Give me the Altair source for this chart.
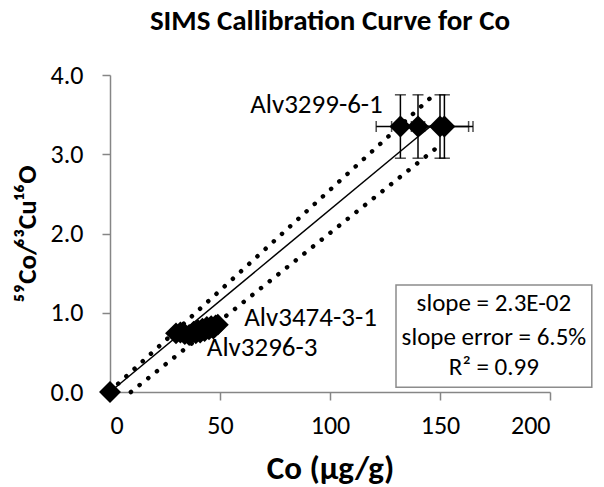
import altair as alt
import pandas as pd

# ---- data ----
x_low = [30, 32, 34, 36, 38, 39, 40, 41, 42, 43, 44, 45, 46, 47, 48, 49]
y_low = [0.74, 0.75, 0.73, 0.72, 0.76, 0.74, 0.78, 0.75, 0.80, 0.77, 0.82, 0.79, 0.83, 0.80, 0.84, 0.85]
x_top = [132, 140, 150, 152]
y_top = [3.35, 3.35, 3.35, 3.35]
yerr_top = [0.40, 0.40, 0.40, 0.40]
xerr_top = [11, 12, 13, 13]
x_zero = [0]
y_zero = [0]

fit_x = [0, 146]
fit_y = [0.0, 3.36]
upper_x = [0, 148]
upper_y = [0.01, 3.77]
lower_x = [9.5, 148]
lower_y = [0.0, 3.07]

label_text = ["Alv3299-6-1", "Alv3474-3-1", "Alv3296-3"]
label_x = [124, 61, 44]
label_y = [3.62, 0.94, 0.55]
label_align = ["right", "left", "left"]

box_lines = ["slope = 2.3E-02", "slope error = 6.5%", "R\u00b2 = 0.99"]
box_line_y = [1.12, 0.70, 0.31]
box_x = [130, 219]
box_y = [0.06, 1.35]

FONT = "Carlito, Calibri, Lato, sans-serif"

pts = pd.DataFrame({
    "x": x_zero + x_low + x_top,
    "y": y_zero + y_low + y_top,
})
top = pd.DataFrame({
    "x": x_top, "y": y_top,
    "ylo": [a - b for a, b in zip(y_top, yerr_top)],
    "yhi": [a + b for a, b in zip(y_top, yerr_top)],
    "xlo": [a - b for a, b in zip(x_top, xerr_top)],
    "xhi": [a + b for a, b in zip(x_top, xerr_top)],
})
caps_v = pd.DataFrame({"x": x_top * 2, "y": list(top["ylo"]) + list(top["yhi"])})
caps_h = pd.DataFrame({"x": list(top["xlo"]) + list(top["xhi"]), "y": y_top * 2})

upper = pd.DataFrame({"x": upper_x, "y": upper_y})
lower = pd.DataFrame({"x": lower_x, "y": lower_y})
fitdf = pd.DataFrame({"x": fit_x, "y": fit_y})

labels = pd.DataFrame({"t": label_text, "x": label_x, "y": label_y, "a": label_align})
boxdf = pd.DataFrame({"x": [box_x[0]], "x2": [box_x[1]], "y": [box_y[0]], "y2": [box_y[1]]})
boxtxt = pd.DataFrame({"t": box_lines, "y": box_line_y, "x": [(box_x[0] + box_x[1]) / 2] * 3})

xs = alt.Scale(domain=[0, 200], nice=False, zero=False)
ys = alt.Scale(domain=[0, 4], nice=False, zero=False)

X = alt.X("x:Q", scale=xs, axis=alt.Axis(
    values=[0, 50, 100, 150, 200], title="Co (\u00b5g/g)", grid=False))
Y = alt.Y("y:Q", scale=ys, axis=alt.Axis(
    values=[0, 1, 2, 3, 4], format=".1f", title="\u2075\u2079Co/\u2076\u00b3Cu\u00b9\u2076O",
    grid=False))

base_x = alt.X("x:Q", scale=xs)
base_y = alt.Y("y:Q", scale=ys)

axes_layer = alt.Chart(pts).mark_point(opacity=0).encode(x=X, y=Y)

fit_line = alt.Chart(fitdf).mark_line(color="black", strokeWidth=1.5, clip=False).encode(x=base_x, y=base_y)
up_line = alt.Chart(upper).mark_line(color="black", strokeWidth=4.5, strokeCap="round",
                                     strokeDash=[0.1, 11], clip=False).encode(x=base_x, y=base_y)
lo_line = alt.Chart(lower).mark_line(color="black", strokeWidth=4.5, strokeCap="round",
                                     strokeDash=[0.1, 11], clip=False).encode(x=base_x, y=base_y)

vbars = alt.Chart(top).mark_rule(color="black", strokeWidth=1.5).encode(
    x=base_x, y=alt.Y("ylo:Q", scale=ys), y2="yhi:Q")
hbars = alt.Chart(top).mark_rule(color="black", strokeWidth=1.5).encode(
    x=alt.X("xlo:Q", scale=xs), x2="xhi:Q", y=base_y)
vcaps = alt.Chart(caps_v).mark_tick(color="black", orient="horizontal", size=11, thickness=1.5).encode(
    x=base_x, y=base_y)
hcaps = alt.Chart(caps_h).mark_tick(color="black", orient="vertical", size=11, thickness=1.5).encode(
    x=base_x, y=base_y)

diamonds = alt.Chart(pts).mark_point(shape="diamond", filled=True, color="black", size=480,
                                     opacity=1, clip=False).encode(x=base_x, y=base_y)

lab_r = alt.Chart(labels[labels["a"] == "right"]).mark_text(
    fontSize=27, font=FONT, color="black", baseline="middle", align="right").encode(
    x=base_x, y=base_y, text="t:N")
lab_l = alt.Chart(labels[labels["a"] == "left"]).mark_text(
    fontSize=27, font=FONT, color="black", baseline="middle", align="left").encode(
    x=base_x, y=base_y, text="t:N")

box = alt.Chart(boxdf).mark_rect(fill="white", stroke="#8c8c8c", strokeWidth=1.5, clip=False).encode(
    x=base_x, x2="x2:Q", y=base_y, y2="y2:Q")
box_t = alt.Chart(boxtxt).mark_text(fontSize=25, font=FONT, color="black", baseline="middle",
                                    align="center", clip=False).encode(
    x=base_x, y=base_y, text="t:N")

chart = alt.layer(
    axes_layer, fit_line, up_line, lo_line, vbars, hbars, vcaps, hcaps, diamonds,
    lab_r, lab_l, box, box_t
).properties(
    width=440, height=317,
    title=alt.TitleParams("SIMS Callibration Curve for Co", font=FONT, fontSize=29,
                          fontWeight="bold", color="black", anchor="middle", offset=26),
    autosize=alt.AutoSizeParams(type="none"),
    padding={"left": 110, "top": 75, "right": 54, "bottom": 95},
).configure_view(stroke=None).configure_axis(
    domainColor="#868686", domainWidth=1.5, tickColor="#868686", tickWidth=1.5, tickSize=8,
    labelFont=FONT, labelFontSize=26, labelColor="black",
    titleFont=FONT, titleFontWeight="bold", titleColor="black",
).configure_axisY(labelPadding=19, titlePadding=9, titleFontSize=27
).configure_axisX(labelPadding=12, titlePadding=14, titleFontSize=33)

chart.save("out.html", embed_options={"renderer": "svg", "actions": False})
